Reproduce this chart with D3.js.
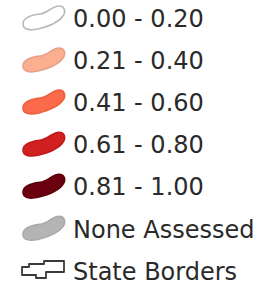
<!DOCTYPE html>
<html><head><meta charset="utf-8">
<script src="https://cdn.jsdelivr.net/npm/d3@7"></script>
<style>html,body{margin:0;padding:0;background:#fff;}svg{display:block;}</style>
</head><body>
<svg id="c" width="262" height="286"></svg>
<script>
const labels = ["0.00 - 0.20","0.21 - 0.40","0.41 - 0.60","0.61 - 0.80","0.81 - 1.00","None Assessed","State Borders"];
const fills = ["#ffffff","#fcae91","#fb6a4a","#d0201f","#6b000f","#b4b4b4","none"];
const strokes = ["#b8b8b8","#e8a08a","#ee6040","#c01a1a","#60000d","#aaaaaa","#3a3a3a"];
const kinds = ["blob","blob","blob","blob","blob","blob","border"];

const svg = d3.select("#c");
const y = d3.scalePoint().domain(d3.range(labels.length)).range([18.5, 271]);
const blob = "M-19,6 C-19,0 -11,-3 -2,-4 C6,-5 10,-12 17,-12 C23,-12 24,-6 21,-2 C17,4 8,8 -4,11 C-13,13 -19,11 -19,6 Z";
const border = "M-20,-4 H-13 V-7 H2 V-10 H22 V1 H4 V7 H-6 V4 H-20 Z";

const g = svg.selectAll("g.item").data(labels).join("g")
  .attr("class","item")
  .attr("transform",(d,i)=>`translate(0,${y(i)})`);

g.append("path")
  .attr("transform", (d,i)=> kinds[i]==="blob" ? "translate(42,-0.5)" : "translate(42,0)")
  .attr("d",(d,i)=> kinds[i]==="blob" ? blob : border)
  .attr("fill",(d,i)=>fills[i])
  .attr("stroke",(d,i)=>strokes[i])
  .attr("stroke-width",(d,i)=> kinds[i]==="blob" ? 1.6 : 1.8)
  .attr("stroke-linejoin","round");

g.append("text")
  .attr("x",73)
  .attr("y",0)
  .attr("dy","0.36em")
  .attr("font-family","DejaVu Sans")
  .attr("font-size",24)
  .attr("fill","#2a2a2a")
  .text(d=>d);
</script>
</body></html>
